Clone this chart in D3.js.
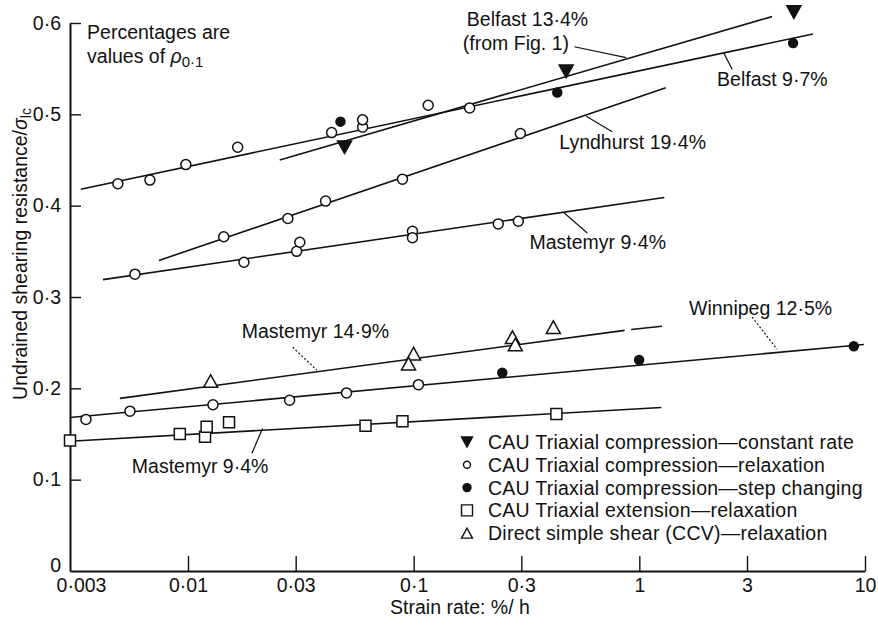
<!DOCTYPE html>
<html>
<head>
<meta charset="utf-8">
<script src="https://cdn.jsdelivr.net/npm/d3@7/dist/d3.min.js"></script>
<style>
  html, body { margin: 0; padding: 0; background: #fff; }
  svg { display: block; }
  text { font-family: "Liberation Sans", Arial, Helvetica, sans-serif; fill: #111; }
</style>
</head>
<body>
<svg id="chart" width="878" height="627"></svg>
<script>
// Axis ticks
const xTicks = [0.003, 0.01, 0.03, 0.1, 0.3, 1, 3, 10];
const yTicks = [0, 0.1, 0.2, 0.3, 0.4, 0.5, 0.6];

// Belfast: CAU triaxial compression — constant rate (filled down-triangles)
const belfastConstRate = [[0.0494, 0.464], [0.474, 0.547], [4.84, 0.612]];
// Belfast: CAU triaxial compression — relaxation (open circles)
const belfastRelax = [[0.00489, 0.424], [0.00678, 0.428], [0.00978, 0.445], [0.0166, 0.464],
  [0.0433, 0.480], [0.0594, 0.486], [0.0594, 0.494], [0.116, 0.510], [0.177, 0.507]];
// Belfast: CAU triaxial compression — step changing (filled circles)
const belfastStep = [[0.0474, 0.492], [0.433, 0.524], [4.80, 0.578]];
// Lyndhurst: relaxation (open circles)
const lyndhurstRelax = [[0.0144, 0.366], [0.0277, 0.386], [0.0407, 0.405], [0.0892, 0.429], [0.297, 0.479]];
// Mastemyr 9.4% compression: relaxation (open circles)
const mastemyrCompRelax = [[0.00582, 0.325], [0.0177, 0.338], [0.0303, 0.350], [0.0313, 0.360],
  [0.0988, 0.372], [0.0988, 0.365], [0.237, 0.380], [0.291, 0.383]];
// Mastemyr 14.9%: direct simple shear (open up-triangles)
const mastemyrDSS = [[0.0126, 0.208], [0.0999, 0.238], [0.0949, 0.227], [0.274, 0.256], [0.282, 0.248], [0.416, 0.267]];
// Winnipeg: relaxation (open circles) and step changing (filled circles)
const winnipegRelax = [[0.00353, 0.166], [0.00553, 0.175], [0.0129, 0.182], [0.0282, 0.187], [0.0504, 0.195], [0.105, 0.204]];
const winnipegStep = [[0.247, 0.217], [0.998, 0.231], [8.92, 0.246]];
// Mastemyr 9.4% extension: relaxation (open squares)
const mastemyrExt = [[0.003, 0.143], [0.0092, 0.150], [0.0119, 0.147], [0.0121, 0.158], [0.0152, 0.163],
  [0.0612, 0.159], [0.0892, 0.164], [0.429, 0.172]];

// Fitted lines (end points); the Mastemyr 14.9% line is drawn in two pieces
const lineBelfast134 = [[0.0255, 0.450], [3.87, 0.607]];
const lineBelfast97 = [[0.00335, 0.418], [5.88, 0.588]];
const lineLyndhurst = [[0.00743, 0.340], [1.31, 0.529]];
const lineMastemyr94c = [[0.0042, 0.319], [1.29, 0.409]];
const lineMastemyr149a = [[0.00499, 0.189], [0.86, 0.2635]];
const lineMastemyr149b = [[0.92, 0.2645], [1.26, 0.268]];
const lineWinnipeg = [[0.003, 0.168], [9.89, 0.248]];
const lineMastemyr94e = [[0.003, 0.142], [1.25, 0.179]];

// Line labels: text, anchor (strain rate, resistance), leader from/to, dotted leader?
const lineLabels = [
  { text: ["Belfast 13·4%", "(from Fig. 1)"], at: [0.172, 0.597], lead: [[0.515, 0.574], [0.874, 0.562]], dotted: false },
  { text: ["Belfast 9·7%"], at: [2.21, 0.531], lead: [[2.37, 0.567], [2.58, 0.549]], dotted: false },
  { text: ["Lyndhurst 19·4%"], at: [0.442, 0.462], lead: [[0.582, 0.498], [0.758, 0.481]], dotted: false },
  { text: ["Mastemyr 9·4%"], at: [0.326, 0.353], lead: [[0.465, 0.392], [0.588, 0.370]], dotted: false },
  { text: ["Mastemyr 14·9%"], at: [0.0173, 0.255], lead: [[0.0291, 0.245], [0.0372, 0.220]], dotted: true },
  { text: ["Winnipeg 12·5%"], at: [1.66, 0.280], lead: [[3.16, 0.278], [4.07, 0.243]], dotted: true },
  { text: ["Mastemyr 9·4%"], at: [0.00564, 0.107], lead: [[0.0214, 0.156], [0.0192, 0.129]], dotted: false }
];

const legendItems = [
  { sym: "triDownFilled", text: "CAU Triaxial compression—constant rate" },
  { sym: "circleOpen", text: "CAU Triaxial compression—relaxation" },
  { sym: "circleFilled", text: "CAU Triaxial compression—step changing" },
  { sym: "squareOpen", text: "CAU Triaxial extension—relaxation" },
  { sym: "triUpOpen", text: "Direct simple shear (CCV)—relaxation" }
];

const svg = d3.select("#chart");
const FS = 19.5;

const x = d3.scaleLog().domain([0.003, 10]).range([70, 865]);
const y = d3.scaleLinear().domain([0, 0.6]).range([571, 23]);

const fmt = v => String(v).replace(".", "·");

// Axes with inward ticks
const xAxis = svg.append("g").attr("transform", "translate(0,571)")
  .call(d3.axisBottom(x).tickValues(xTicks).tickFormat(fmt).tickSizeInner(-15).tickSizeOuter(0).tickPadding(7));
const yAxis = svg.append("g").attr("transform", "translate(70,0)")
  .call(d3.axisLeft(y).tickValues(yTicks).tickFormat(d => d === 0 ? "0" : fmt(d)).tickSizeInner(-11).tickSizeOuter(0).tickPadding(9));

[xAxis, yAxis].forEach(g => {
  g.select(".domain").attr("stroke", "#111").attr("stroke-width", 2);
  g.selectAll(".tick line").attr("stroke", "#111").attr("stroke-width", 1.4);
  g.selectAll(".tick text").attr("font-size", FS).attr("fill", "#111")
    .attr("font-family", "Liberation Sans, Arial, sans-serif");
});
xAxis.selectAll(".tick").filter(d => d === 0.003).select("line").remove();
xAxis.selectAll(".tick").filter(d => d === 0.003).select("text").attr("dx", 11);
yAxis.selectAll(".tick").filter(d => d === 0).select("line").remove();
yAxis.selectAll(".tick").filter(d => d === 0).select("text").attr("dy", "0.0em");

// Axis titles
svg.append("text")
  .attr("x", 460).attr("y", 614).attr("text-anchor", "middle").attr("font-size", FS)
  .text("Strain rate: %/ h");

const yTitle = svg.append("text")
  .attr("transform", "translate(27,254) rotate(-90)")
  .attr("text-anchor", "middle").attr("font-size", FS);
yTitle.append("tspan").text("Undrained shearing resistance/");
yTitle.append("tspan").attr("font-style", "italic").text("σ");
yTitle.append("tspan").attr("font-size", 14).attr("dy", 4).text("lc");

// Note
const note = svg.append("text").attr("font-size", FS);
note.append("tspan").attr("x", x(0.00357)).attr("y", y(0.582)).text("Percentages are");
note.append("tspan").attr("x", x(0.00357)).attr("y", y(0.556)).text("values of ");
note.append("tspan").attr("font-style", "italic").text("ρ");
note.append("tspan").attr("font-size", 15).attr("dy", 4).text("0·1");

// Fitted lines
const lineGen = d3.line().x(d => x(d[0])).y(d => y(d[1]));
const lines = [lineBelfast134, lineBelfast97, lineLyndhurst, lineMastemyr94c,
  lineMastemyr149a, lineMastemyr149b, lineWinnipeg, lineMastemyr94e];
svg.append("g").selectAll("path").data(lines).join("path")
  .attr("d", lineGen).attr("fill", "none").attr("stroke", "#111").attr("stroke-width", 1.6);

// Label leaders and texts
const lab = svg.append("g");
lineLabels.forEach(l => {
  lab.append("path").attr("d", lineGen(l.lead)).attr("fill", "none").attr("stroke", "#111")
    .attr("stroke-width", 1.2)
    .attr("stroke-dasharray", l.dotted ? "2,2" : null);
  const t = lab.append("text").attr("font-size", FS);
  l.text.forEach((s, i) => {
    t.append("tspan").attr("x", x(l.at[0]) - (i ? 4 : 0)).attr("y", y(l.at[1]) + i * 24).text(s);
  });
});

// Marker shapes
function symPath(kind, s) {
  const h = s * 0.9, w = s;
  switch (kind) {
    case "triDownFilled": return `M${-w / 2},${-h / 2}L${w / 2},${-h / 2}L0,${h / 2}Z`;
    case "triUpOpen": return `M${-w / 2},${h / 2}L${w / 2},${h / 2}L0,${-h / 2}Z`;
    case "squareOpen": return `M${-w / 2},${-w / 2}H${w / 2}V${w / 2}H${-w / 2}Z`;
    case "circleOpen":
    case "circleFilled": {
      const r = w / 2;
      return `M${-r},0A${r},${r} 0 1,0 ${r},0A${r},${r} 0 1,0 ${-r},0Z`;
    }
  }
}
const isFilled = k => k === "triDownFilled" || k === "circleFilled";

function drawPoints(data, kind, size) {
  svg.append("g").selectAll("path").data(data).join("path")
    .attr("transform", d => `translate(${x(d[0])},${y(d[1])})`)
    .attr("d", symPath(kind, size))
    .attr("fill", isFilled(kind) ? "#111" : "#fff")
    .attr("stroke", "#111").attr("stroke-width", 1.5);
}

drawPoints(belfastRelax, "circleOpen", 10);
drawPoints(lyndhurstRelax, "circleOpen", 10);
drawPoints(mastemyrCompRelax, "circleOpen", 10);
drawPoints(winnipegRelax, "circleOpen", 10);
drawPoints(mastemyrExt, "squareOpen", 11);
drawPoints(mastemyrDSS, "triUpOpen", 14);
drawPoints(belfastStep, "circleFilled", 9);
drawPoints(winnipegStep, "circleFilled", 9);
drawPoints(belfastConstRate, "triDownFilled", 14);

// Legend
const legend = svg.append("g").attr("transform", "translate(467,442)");
legendItems.forEach((it, i) => {
  const g = legend.append("g").attr("transform", `translate(0,${i * 22.8})`);
  const sz = it.sym === "circleOpen" ? 7 : (it.sym === "circleFilled" ? 8 : 11);
  g.append("path").attr("d", symPath(it.sym, sz))
    .attr("fill", isFilled(it.sym) ? "#111" : "#fff")
    .attr("stroke", "#111").attr("stroke-width", 1.4);
  g.append("text").attr("x", 21).attr("y", 7).attr("font-size", FS).attr("letter-spacing", 0.25).text(it.text);
});
</script>
</body>
</html>
